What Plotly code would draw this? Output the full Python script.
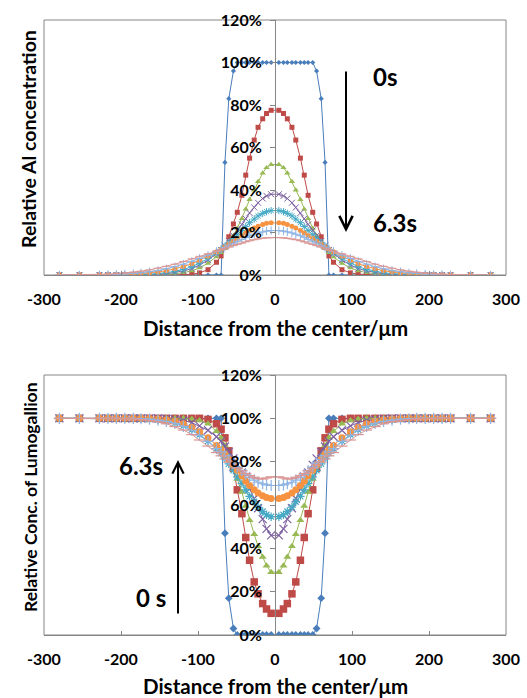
import plotly.graph_objects as go

# ---------------- data ----------------
X_UM = [
    -280, -254, -228, -217, -206, -195, -184, -174, -163, -152, -141, -130, -119, -108, -98,
    -87, -76, -70, -65, -60, -54, -49, -43, -38, -33, -27, -22, -16, -11, -5,
    5, 11, 16, 22, 27, 33, 38, 43, 49, 54, 60, 65, 70, 76, 87,
    98, 108, 119, 130, 141, 152, 163, 174, 184, 195, 206, 217, 228, 254, 280]

# Relative Al concentration (%), series from 0 s to 6.3 s
AL_S1 = [0, 0, 0, 0, 0, 0, 0, 0, 0, 0, 0, 0, 0, 0, 0, 0, 0, 0, 53, 83, 96, 100, 100, 100, 100, 100, 100, 100, 100, 100,
         100, 100, 100, 100, 100, 100, 100, 100, 100, 96, 83, 53, 0, 0, 0, 0, 0, 0, 0, 0, 0, 0, 0, 0, 0, 0, 0, 0, 0, 0]
AL_S2 = [0, 0, 0, 0, 0, 0, 0, 0, 0, 0, 0, 0, 0.1, 0.4, 1, 2.5, 6, 9, 13, 18, 24, 29.5, 37.5, 47, 55, 63.5, 69.5, 73.5, 76, 77.5,
         77.5, 76, 73.5, 69.5, 63.5, 55, 47, 37.5, 29.5, 24, 18, 13, 9, 6, 2.5, 1, 0.4, 0.1, 0, 0, 0, 0, 0, 0, 0, 0, 0, 0, 0, 0]
AL_S3 = [0, 0, 0, 0, 0, 0, 0, 0, 0, 0.1, 0.3, 0.6, 1.1, 2, 3.3, 5.5, 8.5, 10.5, 12.5, 15, 18.5, 22, 26.5, 31, 35.5, 40, 44, 48, 50.5, 52,
         52, 50.5, 48, 44, 40, 35.5, 31, 26.5, 22, 18.5, 15, 12.5, 10.5, 8.5, 5.5, 3.3, 2, 1.1, 0.6, 0.3, 0.1, 0, 0, 0, 0, 0, 0, 0, 0, 0]
AL_S4 = [0, 0, 0, 0, 0, 0, 0, 0.05, 0.15, 0.3, 0.6, 1.1, 1.9, 3, 4.7, 7, 10, 11.8, 13.8, 16, 18.5, 21, 23.8, 26.5, 29.2, 31.8, 34, 36, 37.2, 38,
         38, 37.2, 36, 34, 31.8, 29.2, 26.5, 23.8, 21, 18.5, 16, 13.8, 11.8, 10, 7, 4.7, 3, 1.9, 1.1, 0.6, 0.3, 0.15, 0.05, 0, 0, 0, 0, 0, 0, 0]
AL_S5 = [0, 0, 0, 0, 0, 0, 0.1, 0.2, 0.35, 0.6, 1.05, 1.7, 2.6, 3.9, 5.6, 7.8, 10.5, 12, 13.6, 15.3, 17.1, 19, 20.9, 22.8, 24.6, 26.3, 27.8, 29, 29.8, 30.3,
         30.3, 29.8, 29, 27.8, 26.3, 24.6, 22.8, 20.9, 19, 17.1, 15.3, 13.6, 12, 10.5, 7.8, 5.6, 3.9, 2.6, 1.7, 1.05, 0.6, 0.35, 0.2, 0.1, 0, 0, 0, 0, 0, 0]
AL_S6 = [0, 0, 0, 0, 0.1, 0.2, 0.35, 0.6, 0.9, 1.4, 2, 2.9, 4, 5.3, 6.9, 8.8, 10.9, 12.1, 13.3, 14.6, 15.9, 17.2, 18.5, 19.8, 21, 22.1, 23, 23.8, 24.3, 24.6,
         24.6, 24.3, 23.8, 23, 22.1, 21, 19.8, 18.5, 17.2, 15.9, 14.6, 13.3, 12.1, 10.9, 8.8, 6.9, 5.3, 4, 2.9, 2, 1.4, 0.9, 0.6, 0.35, 0.2, 0.1, 0, 0, 0, 0]
AL_S7 = [0, 0, 0.1, 0.17, 0.28, 0.45, 0.7, 1, 1.5, 2.1, 2.9, 3.9, 5.1, 6.4, 7.8, 9.3, 11.1, 12.1, 13, 14, 15, 15.9, 16.8, 17.7, 18.5, 19.2, 19.8, 20.3, 20.7, 20.9,
         20.9, 20.7, 20.3, 19.8, 19.2, 18.5, 17.7, 16.8, 15.9, 15, 14, 13, 12.1, 11.1, 9.3, 7.8, 6.4, 5.1, 3.9, 2.9, 2.1, 1.5, 1, 0.7, 0.45, 0.28, 0.17, 0.1, 0, 0]
AL_S8 = [0, 0.05, 0.25, 0.4, 0.6, 0.9, 1.3, 1.8, 2.4, 3.2, 4.1, 5.1, 6.3, 7.6, 8.8, 10, 11.2, 11.8, 12.4, 13.1, 13.8, 14.4, 15, 15.6, 16.1, 16.6, 17, 17.3, 17.5, 17.6,
         17.6, 17.5, 17.3, 17, 16.6, 16.1, 15.6, 15, 14.4, 13.8, 13.1, 12.4, 11.8, 11.2, 10, 8.8, 7.6, 6.3, 5.1, 4.1, 3.2, 2.4, 1.8, 1.3, 0.9, 0.6, 0.4, 0.25, 0.05, 0]

# Relative concentration of Lumogallion (%), series from 0 s to 6.3 s
LG_S1 = [100, 100, 100, 100, 100, 100, 100, 100, 100, 100, 100, 100, 100, 100, 100, 100, 100, 100, 47, 17, 3, 0, 0, 0, 0, 0, 0, 0, 0, 0,
         0, 0, 0, 0, 0, 0, 0, 0, 0, 3, 17, 47, 100, 100, 100, 100, 100, 100, 100, 100, 100, 100, 100, 100, 100, 100, 100, 100, 100, 100]
LG_S2 = [100, 100, 100, 100, 100, 100, 100, 100, 100, 100, 100, 100, 100, 100, 100, 99.5, 97.5, 95, 91, 85, 77, 67, 56, 45, 34.5, 24.5, 19, 14.5, 12, 10,
         10, 12, 14.5, 19, 24.5, 34.5, 45, 56, 67, 77, 85, 91, 95, 97.5, 99.5, 100, 100, 100, 100, 100, 100, 100, 100, 100, 100, 100, 100, 100, 100, 100]
LG_S3 = [100, 100, 100, 100, 100, 100, 100, 100, 100, 100, 100, 100, 100, 99.7, 99, 97.5, 94, 91, 87.5, 83, 78, 72, 66, 59.5, 53, 46.5, 41, 36, 32, 29,
         29, 32, 36, 41, 46.5, 53, 59.5, 66, 72, 78, 83, 87.5, 91, 94, 97.5, 99, 99.7, 100, 100, 100, 100, 100, 100, 100, 100, 100, 100, 100, 100, 100]
LG_S4 = [100, 100, 100, 100, 100, 100, 100, 100, 100, 100, 99.8, 99.5, 99, 98, 96.5, 94.5, 91.5, 89.5, 87, 84.5, 81.5, 78.5, 75, 71.5, 67.5, 63, 58.5, 53.5, 49, 46,
         46, 49, 53.5, 58.5, 63, 67.5, 71.5, 75, 78.5, 81.5, 84.5, 87, 89.5, 91.5, 94.5, 96.5, 98, 99, 99.5, 99.8, 100, 100, 100, 100, 100, 100, 100, 100, 100, 100]
LG_S5 = [100, 100, 100, 100, 100, 100, 100, 99.9, 99.7, 99.3, 98.7, 97.8, 96.5, 94.8, 92.5, 89.5, 86, 84, 81.5, 79, 76, 73, 70, 67, 64, 61.5, 59, 57, 55.5, 54.6,
         54.6, 55.5, 57, 59, 61.5, 64, 67, 70, 73, 76, 79, 81.5, 84, 86, 89.5, 92.5, 94.8, 96.5, 97.8, 98.7, 99.3, 99.7, 99.9, 100, 100, 100, 100, 100, 100, 100]
LG_S6 = [100, 100, 100, 100, 100, 100, 100, 100, 99.9, 99.7, 99.3, 98.6, 97.5, 95.8, 93.8, 91, 87.5, 85.5, 83.5, 81, 78.5, 76, 73.5, 71, 69, 67, 65.5, 64.3, 63.5, 63,
         63, 63.5, 64.3, 65.5, 67, 69, 71, 73.5, 76, 78.5, 81, 83.5, 85.5, 87.5, 91, 93.8, 95.8, 97.5, 98.6, 99.3, 99.7, 99.9, 100, 100, 100, 100, 100, 100, 100, 100]
LG_S7 = [100, 100, 100, 100, 100, 100, 100, 99.8, 99.6, 99.2, 98.6, 97.7, 96.3, 94.5, 92.2, 89.3, 86, 84.5, 82.8, 81, 79.3, 77.5, 75.8, 74.2, 72.8, 71.5, 70.5, 69.8, 69.3, 69,
         69, 69.3, 69.8, 70.5, 71.5, 72.8, 74.2, 75.8, 77.5, 79.3, 81, 82.8, 84.5, 86, 89.3, 92.2, 94.5, 96.3, 97.7, 98.6, 99.2, 99.6, 99.8, 100, 100, 100, 100, 100, 100, 100]
LG_S8 = [100, 100, 100, 100, 100, 99.85, 99.7, 99.4, 99, 98.4, 97.5, 96.2, 94.6, 92.5, 90, 87.2, 84.2, 82.7, 81.2, 79.8, 78.4, 77, 75.8, 74.6, 73.6, 72.8, 72.2, 72, 72.5, 73,
         73, 72.5, 72, 72.2, 72.8, 73.6, 74.6, 75.8, 77, 78.4, 79.8, 81.2, 82.7, 84.2, 87.2, 90, 92.5, 94.6, 96.2, 97.5, 98.4, 99, 99.4, 99.7, 99.85, 100, 100, 100, 100, 100]

AL_SERIES = [AL_S1, AL_S2, AL_S3, AL_S4, AL_S5, AL_S6, AL_S7, AL_S8]
LG_SERIES = [LG_S1, LG_S2, LG_S3, LG_S4, LG_S5, LG_S6, LG_S7, LG_S8]

X_TICKS = [-300, -200, -100, 0, 100, 200, 300]
X_TICK_LABELS = ["-300", "-200", "-100", "0", "100", "200", "300"]
Y_TICKS = [0, 20, 40, 60, 80, 100, 120]
Y_TICK_LABELS = ["0%", "20%", "40%", "60%", "80%", "100%", "120%"]

# ---------------- styles ----------------
COLORS = ["#4A7EBB", "#BE4B48", "#98B954", "#7D60A0", "#46AAC5", "#F69240", "#8EB4E3", "#DA9694"]
SYMBOLS = ["diamond", "square", "triangle-up", "x-thin-open", "asterisk-open", "circle",
           "cross-thin-open", "line-ew-open"]
SIZE_TOP = [4, 5, 5.5, 6, 6, 5, 6, 6]
SIZE_BOT = [6, 7.5, 7, 8, 7, 7, 8, 8]

FONT = "Lato"
GRAY = "#868686"

W, H = 527, 698
L, R, T, B = 44, 21, 20, 63
PW, PH = W - L - R, H - T - B


def px_x(px):
    return (px - L) / PW


def px_y(py):
    return (H - B - py) / PH


fig = go.Figure()

for i in range(8):
    thin = SYMBOLS[i].endswith("-open")
    fig.add_trace(go.Scatter(
        x=X_UM, y=AL_SERIES[i], mode="lines+markers", xaxis="x", yaxis="y",
        line=dict(color=COLORS[i], width=1),
        marker=dict(symbol=SYMBOLS[i], size=SIZE_TOP[i], color=COLORS[i],
                    line=dict(color=COLORS[i], width=1 if thin else 0)),
        showlegend=False, hoverinfo="skip"))
for i in range(8):
    thin = SYMBOLS[i].endswith("-open")
    fig.add_trace(go.Scatter(
        x=X_UM, y=LG_SERIES[i], mode="lines+markers", xaxis="x2", yaxis="y2",
        line=dict(color=COLORS[i], width=1),
        marker=dict(symbol=SYMBOLS[i], size=SIZE_BOT[i], color=COLORS[i],
                    line=dict(color=COLORS[i], width=1.2 if thin else 0)),
        showlegend=False, hoverinfo="skip"))

top_dom = [px_y(275), 1]
bot_dom = [0, px_y(375)]

tickfont = dict(family=FONT, size=16, color="black", weight="bold")

xcommon = dict(range=[-300, 300], tickvals=X_TICKS, ticktext=X_TICK_LABELS,
               ticks="inside", ticklen=4, tickcolor=GRAY, showline=True,
               linecolor=GRAY, linewidth=1, zeroline=False, showgrid=False,
               tickfont=tickfont, ticklabelstandoff=10, domain=[0, 1],
               automargin=False)
ycommon = dict(range=[0, 120], tickvals=Y_TICKS, ticktext=Y_TICK_LABELS, ticks="outside",
               ticklen=5, tickcolor=GRAY, showline=True, linecolor=GRAY, linewidth=1,
               zeroline=False, showgrid=False, tickfont=tickfont, anchor="free",
               position=0.5, ticklabelstandoff=5, automargin=False)
ycross = dict(range=[0, 120], tickvals=Y_TICKS, ticks="inside", ticklen=5, tickcolor=GRAY,
              showticklabels=False, showline=False, showgrid=False, zeroline=False,
              anchor="free", position=0.5, automargin=False)

fig.update_layout(
    width=W, height=H, autosize=False,
    margin=dict(l=L, r=R, t=T, b=B, pad=0, autoexpand=False),
    paper_bgcolor="white", plot_bgcolor="white",
    font=dict(family=FONT, color="black"),
    xaxis=dict(anchor="y", **xcommon),
    yaxis=dict(domain=top_dom, **ycommon),
    xaxis2=dict(anchor="y2", **xcommon),
    yaxis2=dict(domain=bot_dom, **ycommon),
    yaxis3=dict(overlaying="y", **ycross),
    yaxis4=dict(overlaying="y2", **ycross),
)

# plot-area frames
for xr, yr in (("x", "y"), ("x2", "y2")):
    fig.add_shape(type="rect", xref=f"{xr} domain", yref=f"{yr} domain",
                  x0=0, x1=1, y0=0, y1=1, line=dict(color=GRAY, width=1),
                  layer="below")

big_font = dict(family=FONT, size=24, color="black", weight="bold")


def tf(size):
    return dict(family=FONT, size=size, color="black", weight="bold")


ann = [
    dict(text="Relative Al concentration", x=px_x(28), y=px_y(139), textangle=-90, font=tf(19.5)),
    dict(text="Relative Conc. of Lumogallion", x=px_x(30), y=px_y(497), textangle=-90, font=tf(17.5)),
    dict(text="Distance from the center/μm", x=0.5, y=px_y(328), font=tf(20.5)),
    dict(text="Distance from the center/μm", x=0.5, y=px_y(686), font=tf(20.5)),
    dict(text="0s", x=px_x(385), y=px_y(77), font=big_font),
    dict(text="6.3s", x=px_x(395), y=px_y(222), font=big_font),
    dict(text="6.3s", x=px_x(141), y=px_y(465), font=big_font),
    dict(text="0 s", x=px_x(151), y=px_y(597), font=big_font),
]
for a in ann:
    fig.add_annotation(xref="paper", yref="paper", showarrow=False,
                       xanchor="center", yanchor="middle", **a)

# arrows
fig.add_annotation(xref="paper", yref="paper", x=px_x(346), y=px_y(232), ax=0, ay=-162,
                   text="", showarrow=True, arrowhead=5, arrowsize=1.3, arrowwidth=2,
                   arrowcolor="black")
fig.add_annotation(xref="paper", yref="paper", x=px_x(178), y=px_y(460), ax=0, ay=155,
                   text="", showarrow=True, arrowhead=5, arrowsize=1.1, arrowwidth=2,
                   arrowcolor="black")

# place the figure at the page origin (remove the default body margin)
fig.write_html("out.html", config={"displayModeBar": False, "responsive": False},
               post_script="document.body.style.margin='0';document.body.style.overflow='hidden';")
